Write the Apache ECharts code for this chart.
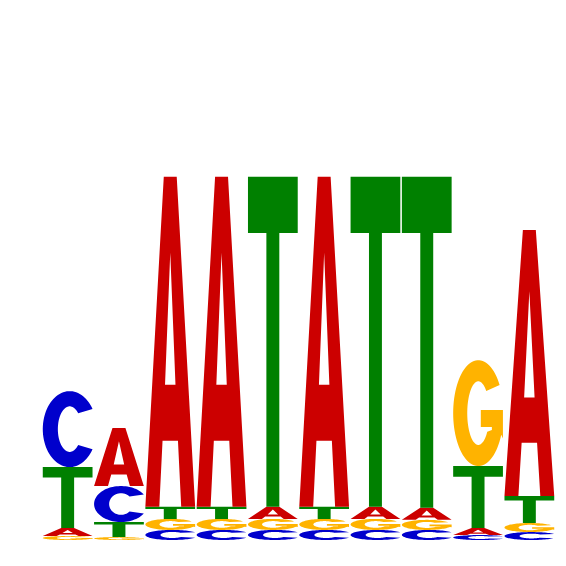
<!DOCTYPE html>
<html>
	<head>
		<meta charset="utf-8">
		<title>Sequence logo</title>
	</head>
	<body style="margin:0;background:#ffffff;">
		<div id="container" style="width: 566px;height:566px;"></div>
	</body>
	<script src="https://cdn.jsdelivr.net/npm/echarts@6/dist/echarts.min.js"></script>
	<script type="text/javascript">
		'use strict'
		// positions of the motif
		var positions = ['1', '2', '3', '4', '5', '6', '7', '8', '9', '10'];
		// letter heights (bits) per position
		var bitsA = [0.048, 0.352, 2.0, 2.0, 0.073, 2.0, 0.073, 0.073, 0.042, 1.612];
		var bitsC = [0.46, 0.218, 0.061, 0.061, 0.061, 0.061, 0.061, 0.061, 0.03, 0.048];
		var bitsG = [0.024, 0.018, 0.067, 0.067, 0.067, 0.067, 0.067, 0.061, 0.642, 0.055];
		var bitsT = [0.37, 0.091, 0.073, 0.073, 2.0, 0.073, 2.0, 2.006, 0.376, 0.164];

		var colors = {A: '#cc0000', C: '#0000cc', G: '#ffb300', T: '#008000'};

		// points on an ellipse centred in the unit box, from angle a0 to a1 (degrees)
		function arc(rx, ry, a0, a1) {
			var pts = [];
			var step = a1 > a0 ? 4 : -4;
			for (var a = a0; step > 0 ? a <= a1 : a >= a1; a += step) {
				var r = a * Math.PI / 180;
				pts.push([0.5 + rx * Math.cos(r), 0.5 + ry * Math.sin(r)]);
			}
			return pts;
		}

		// stretch all contours so that their box is exactly [0,1] x [0,1]
		function normalize(contours) {
			var minX = 1e9, maxX = -1e9, minY = 1e9, maxY = -1e9;
			contours.forEach(function (c) {
				c.forEach(function (p) {
					minX = Math.min(minX, p[0]); maxX = Math.max(maxX, p[0]);
					minY = Math.min(minY, p[1]); maxY = Math.max(maxY, p[1]);
				});
			});
			return contours.map(function (c) {
				return c.map(function (p) {
					return [(p[0] - minX) / (maxX - minX), (p[1] - minY) / (maxY - minY)];
				});
			});
		}

		// glyph outlines in a unit box (y down)
		var glyphs = {
			A: [
				[[0, 1], [0.37, 0], [0.63, 0], [1, 1], [0.72, 1], [0.655, 0.8], [0.345, 0.8], [0.28, 1]],
				// counter, opposite winding
				[[0.395, 0.63], [0.605, 0.63], [0.5, 0.23]]
			],
			T: [
				[[0, 0], [1, 0], [1, 0.17], [0.63, 0.17], [0.63, 1], [0.37, 1], [0.37, 0.17], [0, 0.17]]
			],
			C: normalize([
				arc(0.5, 0.5, 32, 328).concat(arc(0.22, 0.3, 316, 44))
			]),
			G: normalize([
				arc(0.5, 0.5, 328, 24)
					.concat([[0.99, 0.74], [0.99, 0.47], [0.55, 0.47], [0.55, 0.63], [0.77, 0.63], [0.77, 0.66]])
					.concat(arc(0.22, 0.3, 36, 316))
			])
		};

		function glyphPath(letter, x, y, w, h) {
			var d = '';
			glyphs[letter].forEach(function (c) {
				c.forEach(function (p, k) {
					d += (k === 0 ? 'M' : 'L') + (x + p[0] * w).toFixed(2) + ',' + (y + p[1] * h).toFixed(2);
				});
				d += 'Z';
			});
			return d;
		}

		function renderItem(params, api) {
			var i = api.value(0);
			var band = api.size([1, 0])[0];
			var w = band * 0.97;
			var cx = api.coord([i, 0])[0];
			// smallest letter at the bottom
			var stack = [['A', bitsA[i]], ['C', bitsC[i]], ['G', bitsG[i]], ['T', bitsT[i]]];
			stack.sort(function (a, b) { return a[1] - b[1]; });
			var cum = 0;
			var children = [];
			stack.forEach(function (s) {
				var yb = api.coord([i, cum])[1];
				var yt = api.coord([i, cum + s[1]])[1];
				children.push({
					type: 'path',
					shape: {pathData: glyphPath(s[0], cx - w / 2, yt, w, yb - yt)},
					style: {fill: colors[s[0]], stroke: null}
				});
				cum += s[1];
			});
			return {type: 'group', children: children};
		}

		var myCharts = echarts.init(document.getElementById('container'));
		var option = {
			backgroundColor: '#ffffff',
			animation: false,
			grid: {
				left: 42,
				right: 11,
				top: 45,
				bottom: 26
			},
			xAxis: {
				type: 'category',
				data: positions,
				show: false
			},
			yAxis: {
				type: 'value',
				min: 0,
				max: 3,
				show: false
			},
			series: [
				{
					type: 'custom',
					renderItem: renderItem,
					data: positions.map(function (p, i) { return [i]; })
				}
			]
		};
		myCharts.setOption(option);
	</script>
</html>
